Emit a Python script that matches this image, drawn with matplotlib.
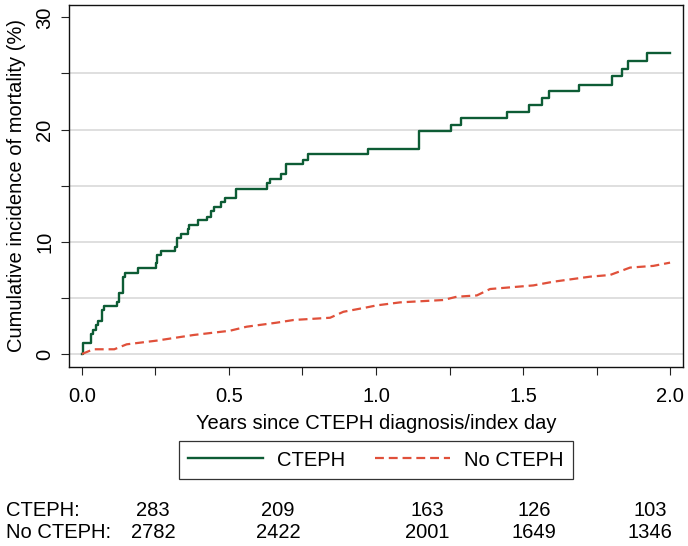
import matplotlib
matplotlib.use("Agg")
import matplotlib.pyplot as plt
from matplotlib.lines import Line2D

# ─── Data ──────────────────────────────────────────────────────────────────────

cteph_t = [0.0, 0.005, 0.03, 0.036, 0.048, 0.053, 0.067, 0.074, 0.12, 0.127,
           0.138, 0.147, 0.19, 0.252, 0.256, 0.27, 0.315, 0.324, 0.338, 0.359,
           0.365, 0.394, 0.424, 0.438, 0.449, 0.472, 0.488, 0.523, 0.628, 0.64,
           0.677, 0.695, 0.753, 0.768, 0.974, 1.147, 1.254, 1.29, 1.444, 1.52,
           1.563, 1.587, 1.692, 1.803, 1.838, 1.858, 1.921, 2.0]
cteph_y = [0.0, 1.0, 1.75, 2.1, 2.6, 2.9, 3.9, 4.3, 4.6, 5.4,
           6.9, 7.2, 7.7, 8.1, 8.8, 9.2, 9.55, 10.3, 10.7, 11.1,
           11.5, 11.9, 12.2, 12.7, 13.1, 13.5, 13.9, 14.7, 15.25, 15.6,
           16.0, 16.9, 17.3, 17.8, 18.3, 19.9, 20.4, 21.0, 21.6, 22.2,
           22.8, 23.45, 24.0, 24.75, 25.4, 26.1, 26.8, 26.8]

# many tiny steps -> drawn as a polyline through the read points
nocteph_t = [0.0, 0.039, 0.11, 0.152, 0.254, 0.379, 0.503, 0.56, 0.662, 0.72,
             0.844, 0.889, 0.968, 1.002, 1.082, 1.229, 1.274, 1.343, 1.388,
             1.535, 1.603, 1.728, 1.796, 1.864, 1.943, 2.0]
nocteph_y = [0.0, 0.42, 0.42, 0.86, 1.19, 1.69, 2.07, 2.43, 2.79, 3.03,
             3.23, 3.76, 4.15, 4.33, 4.6, 4.81, 5.1, 5.22, 5.79,
             6.11, 6.44, 6.89, 7.04, 7.7, 7.85, 8.14]

risk_labels = ["CTEPH:", "No CTEPH:"]
risk_cteph = [283, 209, 163, 126, 103]
risk_nocteph = [2782, 2422, 2001, 1649, 1346]
risk_xpix = [153, 278, 427, 534, 650]   # column centres in the figure (px)

GREEN = "#0d5c35"
RED = "#e0503a"
W, H = 688, 546
FS = 14.5

plt.rcParams["font.family"] = ["Liberation Sans", "DejaVu Sans"]

fig = plt.figure(figsize=(W / 100, H / 100), dpi=100)
fig.patch.set_facecolor("white")
ax = fig.add_axes([69 / W, 1 - 367 / H, (683 - 69) / W, (367 - 5) / H])

ax.step(cteph_t, cteph_y, where="post", color=GREEN, lw=1.7)
ax.plot(nocteph_t, nocteph_y, color=RED, lw=1.6, dashes=(4, 2.2))

ax.set_xlim(-0.044, 2.044)
ax.set_ylim(-1.16, 31.1)

ax.set_xticks([0, 0.25, 0.5, 0.75, 1.0, 1.25, 1.5, 1.75, 2.0])
ax.set_xticklabels(["0.0", "", "0.5", "", "1.0", "", "1.5", "", "2.0"])
ax.set_yticks([0, 5, 10, 15, 20, 25, 30])
ax.set_yticklabels(["0", "", "10", "", "20", "", "30"], rotation=90, va="center")
ax.tick_params(axis="both", direction="out", length=5.5, width=0.8,
               labelsize=FS, color="#222222")
ax.tick_params(axis="x", pad=9)
ax.tick_params(axis="y", pad=5)

for yv in [0, 5, 10, 15, 20, 25]:
    ax.axhline(yv, color="#dcdcdc", lw=1.3, zorder=0)

for s in ax.spines.values():
    s.set_linewidth(1.0)
    s.set_color("#111111")

ax.set_xlabel("Years since CTEPH diagnosis/index day", fontsize=FS, labelpad=6)
ax.set_ylabel("Cumulative incidence of mortality (%)", fontsize=FS, labelpad=7)

# Legend box below the axis title
handles = [Line2D([], [], color=GREEN, lw=1.7),
           Line2D([], [], color=RED, lw=1.6, dashes=(4, 2.2))]
leg = fig.legend(handles, ["CTEPH", "No CTEPH"], ncol=2, loc="center",
                 bbox_to_anchor=(376 / W, 1 - 460 / H), fontsize=FS,
                 frameon=True, fancybox=False, handlelength=3.7,
                 handletextpad=0.7, columnspacing=1.5, borderpad=0.45)
leg.get_frame().set_edgecolor("black")
leg.get_frame().set_linewidth(0.9)

# Number at risk table
for row, (lab, vals) in enumerate(zip(risk_labels, [risk_cteph, risk_nocteph])):
    ypix = 510 + row * 22
    fig.text(6 / W, 1 - ypix / H, lab, fontsize=FS, ha="left", va="center")
    for xp, v in zip(risk_xpix, vals):
        fig.text(xp / W, 1 - ypix / H, str(v), fontsize=FS, ha="center",
                 va="center")

fig.savefig("out.png", dpi=100)
